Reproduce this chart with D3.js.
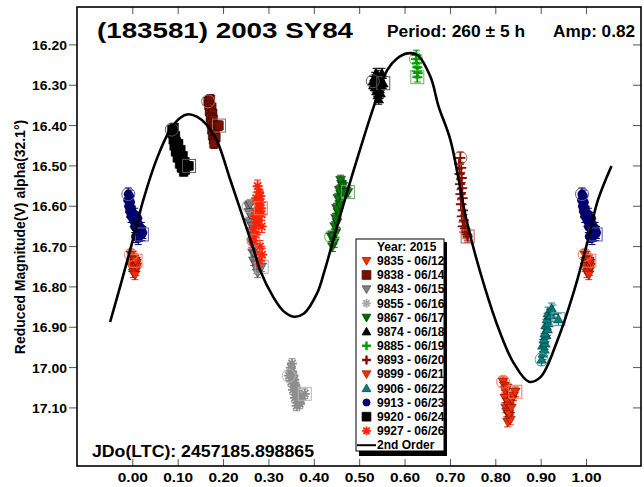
<!DOCTYPE html>
<html><head><meta charset="utf-8">
<script src="https://cdn.jsdelivr.net/npm/d3@7"></script>
<style>
body{margin:0;background:#fff}
text{font-family:"Liberation Sans",Arial,sans-serif;font-weight:bold;fill:#000}
</style>
</head><body>
<svg id="chart" width="644" height="487"></svg>
<script>
// ---------------- data ----------------
const xTicks = [0.0,0.1,0.2,0.3,0.4,0.5,0.6,0.7,0.8,0.9,1.0];
const yTicks = [16.2,16.3,16.4,16.5,16.6,16.7,16.8,16.9,17.0,17.1];

// 2nd order Fourier fit
const fitPhase = [-0.05,-0.024,0,0.023,0.052,0.082,0.104,0.122,0.141,0.163,0.185,0.215,0.244,0.266,0.281,0.31,0.332,0.355,0.377,0.406,0.421,0.45,0.487,0.531,0.561,0.583,0.605,0.627,0.656,0.674,0.70,0.737,0.773,0.81,0.84,0.873,0.899,0.936,0.973,1.003,1.025,1.055];
const fitMag   = [16.887,16.783,16.684,16.585,16.485,16.411,16.381,16.372,16.378,16.398,16.436,16.535,16.632,16.706,16.76,16.826,16.86,16.874,16.866,16.816,16.766,16.651,16.51,16.353,16.262,16.233,16.221,16.225,16.279,16.353,16.436,16.642,16.791,16.915,16.99,17.035,17.023,16.932,16.808,16.684,16.585,16.50];

const sessionIds   = ["9835","9838","9843","9855","9867","9874","9885","9893","9899","9906","9913","9920","9927"];
const sessionDates = ["06/12","06/14","06/15","06/16","06/17","06/18","06/19","06/20","06/21","06/22","06/23","06/24","06/26"];
const sessionErr   = [0.012,0.012,0.012,0.012,0.012,0.012,0.012,0.014,0.012,0.015,0.015,0.010,0.015];

const d9835 = [[-0.004,16.72],[0.002,16.73],[-0.002,16.735],[0.004,16.74],[0.000,16.745],[0.006,16.745],[-0.003,16.75],[0.003,16.755],[0.007,16.76],[0.001,16.765],[0.005,16.77],[0.009,16.75],[0.008,16.74],[0.006,16.735]];
const d9838 = [[0.166,16.34],[0.171,16.335],[0.168,16.35],[0.174,16.355],[0.169,16.365],[0.176,16.37],[0.171,16.38],[0.177,16.385],[0.173,16.395],[0.179,16.40],[0.174,16.41],[0.180,16.415],[0.176,16.425],[0.182,16.42],[0.178,16.435],[0.183,16.43],[0.179,16.445],[0.190,16.40]];
const d9843 = [[0.255,16.60],[0.259,16.595],[0.256,16.615],[0.261,16.625],[0.258,16.64],[0.263,16.65],[0.260,16.665],[0.265,16.675],[0.262,16.69],[0.267,16.70],[0.264,16.715],[0.269,16.72],[0.266,16.735],[0.271,16.745],[0.273,16.755],[0.275,16.765],[0.284,16.75]];
const d9855 = [[0.344,17.02],[0.348,17.00],[0.351,16.99],[0.350,17.01],[0.354,17.02],[0.349,17.035],[0.356,17.03],[0.358,17.045],[0.353,17.055],[0.360,17.05],[0.362,17.065],[0.357,17.075],[0.364,17.07],[0.366,17.085],[0.361,17.095],[0.368,17.09],[0.371,17.08],[0.379,17.065]];
const d9867 = [[0.437,16.675],[0.440,16.70],[0.444,16.69],[0.442,16.675],[0.448,16.665],[0.445,16.65],[0.450,16.64],[0.447,16.63],[0.452,16.615],[0.449,16.605],[0.456,16.595],[0.452,16.58],[0.458,16.57],[0.455,16.56],[0.460,16.545],[0.458,16.535],[0.463,16.55],[0.466,16.565],[0.474,16.565]];
const d9874 = [[0.529,16.29],[0.533,16.28],[0.536,16.27],[0.530,16.30],[0.538,16.29],[0.540,16.275],[0.534,16.305],[0.542,16.295],[0.537,16.315],[0.544,16.31],[0.540,16.325],[0.546,16.32],[0.542,16.335],[0.548,16.30],[0.545,16.285],[0.549,16.27],[0.552,16.295]];
const d9885 = [[0.624,16.235],[0.625,16.225],[0.626,16.245],[0.627,16.255],[0.626,16.265],[0.628,16.27],[0.627,16.28]];
const d9893 = [[0.722,16.48],[0.719,16.495],[0.724,16.505],[0.720,16.52],[0.725,16.53],[0.721,16.545],[0.726,16.555],[0.722,16.57],[0.727,16.58],[0.723,16.595],[0.728,16.61],[0.725,16.625],[0.730,16.635],[0.727,16.65],[0.732,16.655],[0.734,16.665],[0.737,16.67],[0.738,16.675]];
const d9899 = [[0.816,17.035],[0.819,17.045],[0.822,17.06],[0.825,17.05],[0.820,17.075],[0.826,17.085],[0.822,17.10],[0.828,17.095],[0.824,17.11],[0.830,17.12],[0.826,17.135],[0.832,17.13],[0.829,17.115],[0.834,17.10],[0.836,17.08],[0.839,17.07],[0.843,17.06]];
const d9906 = [[0.901,16.98],[0.904,16.965],[0.907,16.955],[0.903,16.945],[0.909,16.94],[0.906,16.93],[0.911,16.92],[0.908,16.915],[0.914,16.905],[0.910,16.895],[0.916,16.89],[0.913,16.88],[0.918,16.87],[0.915,16.865],[0.921,16.87],[0.923,16.855],[0.926,16.86],[0.938,16.88]];
const d9913 = [[-0.010,16.57],[-0.007,16.575],[-0.011,16.585],[-0.005,16.59],[-0.009,16.60],[-0.003,16.605],[-0.007,16.612],[-0.001,16.615],[-0.004,16.625],[0.004,16.62],[0.001,16.635],[0.007,16.64],[0.011,16.63],[0.004,16.65],[0.013,16.645],[0.008,16.655],[0.016,16.66],[0.011,16.665],[0.019,16.655],[0.015,16.672],[0.006,16.675],[0.022,16.665],[0.012,16.68],[0.020,16.67]];
const d9920 = [[0.086,16.41],[0.091,16.405],[0.087,16.42],[0.094,16.425],[0.089,16.435],[0.096,16.44],[0.091,16.45],[0.098,16.455],[0.101,16.445],[0.094,16.465],[0.102,16.47],[0.106,16.46],[0.098,16.48],[0.107,16.485],[0.111,16.475],[0.103,16.495],[0.111,16.50],[0.115,16.49],[0.107,16.505],[0.116,16.51],[0.119,16.50],[0.112,16.515],[0.124,16.50]];
const d9927 = [[0.266,16.685],[0.271,16.67],[0.267,16.655],[0.273,16.64],[0.269,16.625],[0.275,16.61],[0.277,16.595],[0.272,16.58],[0.278,16.565],[0.281,16.575],[0.275,16.55],[0.282,16.59],[0.284,16.62],[0.277,16.635],[0.284,16.65],[0.280,16.70],[0.285,16.72],[0.279,16.735],[0.282,16.605]];

const sessionData = [d9835,d9838,d9843,d9855,d9867,d9874,d9885,d9893,d9899,d9906,d9913,d9920,d9927];

// ---------------- styles ----------------
const sessionColor = ["#ff2a00","#7a1000","#7f7f7f","#8e8e8e","#007a00","#000000","#009c00","#8b0c00","#ff2a00","#008080","#00007f","#000000","#ff2200"];
const legendColor  = ["#ff2a00","#7a1000","#7f7f7f","#a8a8a8","#006600","#000000","#009c00","#8b0c00","#ff2a00","#008080","#00007f","#000000","#ff2200"];
const sessionShape = ["down","square","down","asterisk","down","up","plus","plus","down","up","circle","square","asterisk"];

// ---------------- layout ----------------
const svg = d3.select("#chart");
const L = 77, R = 641, T = 7, B = 466;
const x = d3.scaleLinear().domain([-0.123, 1.12]).range([L, R]);
const y = d3.scaleLinear().domain([16.106, 17.244]).range([T, B]);

function shapePath(shape, s){
  switch(shape){
    case "down": return `M${-s},${-s*0.75}L${s},${-s*0.75}L0,${s}Z`;
    case "up": return `M${-s},${s*0.75}L${s},${s*0.75}L0,${-s}Z`;
    case "square": return `M${-s},${-s}h${2*s}v${2*s}h${-2*s}Z`;
    case "circle": return d3.symbol(d3.symbolCircle, Math.PI*s*s)();
    case "plus": return `M${-s},0H${s}M0,${-s}V${s}`;
    case "asterisk": { const d=s*0.72; return `M${-s},0H${s}M0,${-s}V${s}M${-d},${-d}L${d},${d}M${-d},${d}L${d},${-d}`; }
  }
}
const stroked = sh => sh==="plus" || sh==="asterisk";
const markSize = {down:5, up:5, square:4.4, circle:4.3, plus:5, asterisk:5};

function stretch(sel, w){
  sel.attr("textLength", w).attr("lengthAdjust","spacingAndGlyphs");
}

svg.append("rect").attr("width",644).attr("height",487).attr("fill","#fff");

// ---------------- data marks ----------------
const plot = svg.append("g");
sessionData.forEach((data, i) => {
  const col = sessionColor[i], sh = sessionShape[i], err = sessionErr[i];
  const light = d3.interpolateRgb(col, "#ffffff")(0.35);
  const g = plot.append("g");
  [-1,0,1].forEach(k => {
    const pts = data.map(([p,m]) => [p+k, m]);
    const vis = pts.filter(d => d[0] >= -0.05 && d[0] <= 1.05);
    if(!vis.length) return;
    g.selectAll(null).data(vis).enter().append("path")
      .attr("d", d => { const xx=x(d[0]), y1=y(d[1]-err), y2=y(d[1]+err);
        return `M${xx},${y1}V${y2}M${xx-3.5},${y1}H${xx+3.5}M${xx-3.5},${y2}H${xx+3.5}`; })
      .attr("stroke", col).attr("stroke-width", 1).attr("fill","none");
    g.selectAll(null).data(vis).enter().append("path")
      .attr("transform", d => `translate(${x(d[0])},${y(d[1])})`)
      .attr("d", shapePath(sh, markSize[sh]))
      .attr("fill", stroked(sh) ? "none" : col)
      .attr("stroke", stroked(sh) ? col : "#000")
      .attr("stroke-width", stroked(sh) ? 1.8 : 0.4);
    const f = pts[0], l = pts[pts.length-1];
    if(f[0] >= -0.05 && f[0] <= 1.05)
      g.append("circle").attr("cx", x(f[0])).attr("cy", y(f[1])).attr("r", 6.5)
        .attr("fill","none").attr("stroke", light).attr("stroke-width", 1);
    if(l[0] >= -0.05 && l[0] <= 1.05)
      g.append("rect").attr("x", x(l[0])-6.5).attr("y", y(l[1])-6.5).attr("width", 13).attr("height", 13)
        .attr("fill","none").attr("stroke", light).attr("stroke-width", 1);
  });
});

// ---------------- fit curve ----------------
const fit = fitPhase.map((p,i) => [p, fitMag[i]]);
svg.append("path").datum(fit)
  .attr("d", d3.line().x(d=>x(d[0])).y(d=>y(d[1])).curve(d3.curveCatmullRom))
  .attr("fill","none").attr("stroke","#000").attr("stroke-width",2.6);

// ---------------- axes ----------------
const tickCol = "#555";
const ax = svg.append("g");
xTicks.forEach(t => {
  const xx = x(t);
  ax.append("line").attr("x1",xx).attr("x2",xx).attr("y1",B).attr("y2",B-7).attr("stroke",tickCol);
  ax.append("line").attr("x1",xx).attr("x2",xx).attr("y1",T).attr("y2",T+7).attr("stroke",tickCol);
  const tx = ax.append("text").attr("x",xx).attr("y",482).attr("text-anchor","middle")
    .attr("font-size",13).text(t.toFixed(2));
  stretch(tx, 30);
});
yTicks.forEach(t => {
  const yy = y(t);
  ax.append("line").attr("x1",L).attr("x2",L-8).attr("y1",yy).attr("y2",yy).attr("stroke",tickCol);
  ax.append("line").attr("x1",R).attr("x2",R-8).attr("y1",yy).attr("y2",yy).attr("stroke",tickCol);
  const ty = ax.append("text").attr("x",67).attr("y",yy+5).attr("text-anchor","end")
    .attr("font-size",13.5).text(t.toFixed(2));
  stretch(ty, 35);
});
svg.append("rect").attr("x",L).attr("y",T).attr("width",R-L).attr("height",B-T)
  .attr("fill","none").attr("stroke","#000").attr("stroke-width",1.6);

svg.append("text").attr("transform","translate(25,237) rotate(-90)")
  .attr("text-anchor","middle").attr("font-size",14)
  .text("Reduced Magnitude(V) alpha(32.1°)");

// ---------------- titles ----------------
stretch(svg.append("text").attr("x",97).attr("y",38).attr("font-size",21.5).text("(183581) 2003 SY84"), 256);
stretch(svg.append("text").attr("x",387).attr("y",37).attr("font-size",16).text("Period: 260 ± 5 h"), 138);
stretch(svg.append("text").attr("x",553).attr("y",37).attr("font-size",16).text("Amp: 0.82"), 82);
stretch(svg.append("text").attr("x",92).attr("y",457).attr("font-size",16).text("JDo(LTC): 2457185.898865"), 222);

// ---------------- legend ----------------
const lg = svg.append("g");
lg.append("rect").attr("x",359).attr("y",242).attr("width",88).attr("height",214).attr("fill","#000");
lg.append("rect").attr("x",356).attr("y",239).attr("width",88).attr("height",212).attr("fill","#fff").attr("stroke","#000").attr("stroke-width",1);
lg.append("text").attr("x",377).attr("y",250.5).attr("font-size",12).text("Year: 2015");
sessionIds.forEach((id,i) => {
  const by = 265 + i*14.17;
  const sh = sessionShape[i], col = legendColor[i];
  lg.append("path").attr("transform",`translate(366.5,${by-4.2})`)
    .attr("d", shapePath(sh, sh==="circle"?3.6:4.4))
    .attr("fill", stroked(sh) ? "none" : col)
    .attr("stroke", stroked(sh) ? col : (col==="#000000" ? "#000" : d3.color(col).darker(1.2)))
    .attr("stroke-width", stroked(sh) ? (sh==="asterisk"?1.8:2.4) : 0.8);
  lg.append("text").attr("x",377).attr("y",by).attr("font-size",12).text(`${id} - ${sessionDates[i]}`);
});
const ly = 265 + 13*14.17;
lg.append("line").attr("x1",357).attr("x2",376).attr("y1",ly-4).attr("y2",ly-4).attr("stroke","#000").attr("stroke-width",2);
lg.append("text").attr("x",377).attr("y",ly).attr("font-size",12).text("2nd Order");
</script>
</body></html>
